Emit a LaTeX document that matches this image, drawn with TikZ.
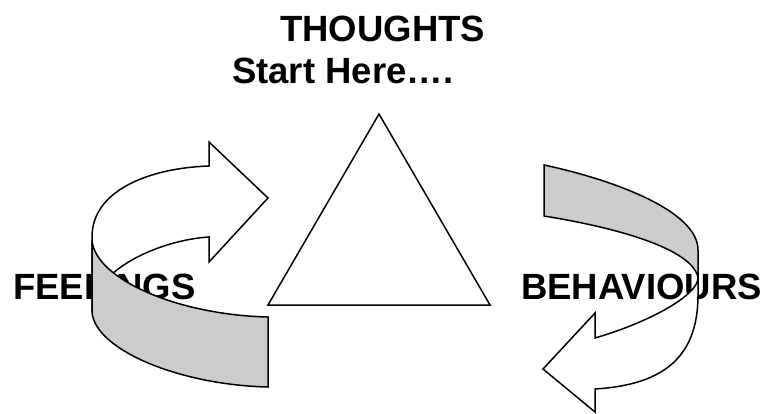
\documentclass[tikz,border=0pt]{standalone}
\usepackage{fontspec}
\setmainfont{Liberation Sans}
\definecolor{bandgray}{RGB}{204,204,204}
\begin{document}
\begin{tikzpicture}[x=1pt,y=-1pt,
  outline/.style={draw=black, line width=1.5pt, line join=miter},
  backpart/.style={outline, fill=white},
  frontpart/.style={outline, fill=bandgray},
  lbl/.style={font=\bfseries\fontsize{36.5}{40}\selectfont, inner sep=0pt, anchor=base west}]
\useasboundingbox (0,0) rectangle (770,414);
% triangle
\coordinate (apex) at (379,114);
\coordinate (bl) at (268,305);
\coordinate (br) at (490,305);
\draw[outline] (apex) -- (br) -- (bl) -- cycle;
% texts
\node[lbl] (thoughts) at (280,42) {THOUGHTS};
\node[lbl] (start) at (232,84) {Start Here….};
\node[lbl] (feelings) at (13,299) {FEELINGS};
\node[lbl] (behaviours) at (521,299) {BEHAVIOURS};
% left arrow: back part
\draw[backpart] (92,237) .. controls (92,190) and (150,168) .. (209,166)
  -- (209,142) -- (268,198) -- (209,262) -- (209,237)
  .. controls (160,240) and (92,270) .. (92,312) -- cycle;
% left arrow: front band
\draw[frontpart] (92,240) .. controls (95,280) and (180,315) .. (268,317)
  -- (268,387) .. controls (180,385) and (95,350) .. (92,312) -- cycle;
% right arrow: back part
\draw[backpart] (698,277) -- (698,295) .. controls (698,360) and (660,385) .. (595,389)
  -- (595,412) -- (543,369) -- (595,313) -- (595,338)
  .. controls (650,322) and (698,295) .. (698,278) -- cycle;
% right arrow: front band
\draw[frontpart] (544,165) .. controls (610,179) and (698,210) .. (698,250)
  -- (698,277) .. controls (690,245) and (600,225) .. (544,216) -- cycle;
\end{tikzpicture}
\end{document}
